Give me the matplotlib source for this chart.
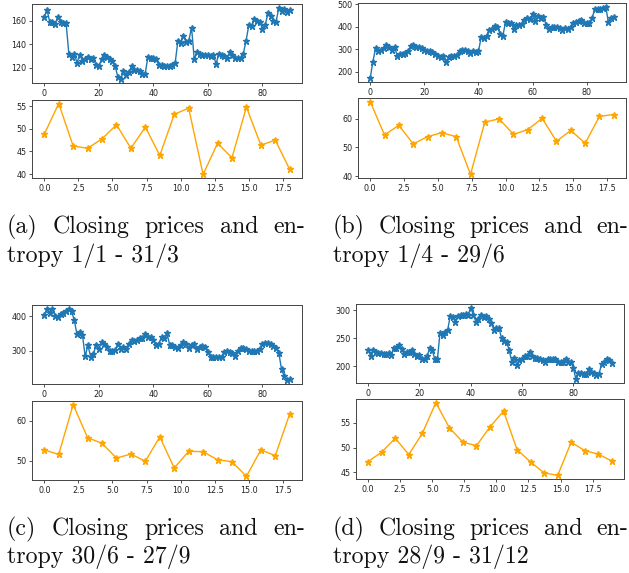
import numpy as np
import matplotlib
matplotlib.use("Agg")
import matplotlib.pyplot as plt
from matplotlib.ticker import MultipleLocator

# Daily closing prices per quarter
price_q1 = [163, 169, 159, 159, 157, 163, 159, 158, 158, 132,
            129, 132, 124, 131, 126, 127, 129, 127, 128, 122,
            121, 127, 131, 129, 127, 126, 121, 112, 110, 117,
            114, 116, 121, 118, 118, 117, 115, 115, 129, 128,
            128, 127, 122, 122, 121, 121, 121, 122, 124, 143,
            141, 147, 142, 143, 154, 127, 133, 132, 131, 131,
            131, 130, 131, 123, 132, 131, 130, 128, 133, 131,
            128, 128, 128, 132, 143, 156, 155, 161, 160, 159,
            153, 156, 166, 164, 160, 159, 171, 168, 170, 167,
            169]
price_q2 = [170, 245, 305, 290, 295, 305, 320, 312, 298, 308,
            272, 280, 278, 285, 290, 315, 318, 312, 308, 305,
            298, 290, 294, 288, 280, 268, 266, 268, 242, 265,
            270, 268, 275, 292, 295, 296, 290, 285, 290, 286,
            290, 355, 352, 358, 385, 392, 405, 398, 368, 360,
            420, 415, 418, 390, 410, 408, 412, 430, 440, 435,
            455, 425, 448, 440, 442, 410, 390, 400, 398, 400,
            395, 385, 395, 390, 398, 415, 420, 425, 430, 415,
            418, 415, 440, 480, 480, 478, 482, 490, 420, 440,
            442]
price_q3 = [402, 420, 410, 422, 400, 398, 405, 410, 415, 420,
            415, 388, 347, 355, 345, 283, 315, 282, 290, 315,
            305, 325, 320, 310, 298, 300, 302, 318, 305, 310,
            305, 320, 330, 328, 330, 335, 335, 348, 338, 340,
            330, 315, 320, 340, 335, 350, 315, 315, 310, 308,
            315, 325, 318, 308, 315, 318, 305, 310, 313, 310,
            295, 280, 280, 280, 280, 280, 295, 300, 295, 293,
            285, 300, 308, 306, 305, 300, 300, 298, 300, 305,
            318, 323, 323, 318, 312, 308, 293, 245, 225, 213,
            218]
price_q4 = [228, 218, 228, 225, 223, 224, 222, 222, 223, 220,
            233, 232, 238, 230, 222, 225, 225, 228, 222, 218,
            220, 212, 213, 218, 232, 228, 212, 212, 260, 255,
            262, 265, 290, 288, 280, 290, 292, 292, 293, 292,
            305, 292, 280, 285, 292, 288, 290, 285, 278, 265,
            268, 268, 250, 245, 243, 228, 208, 215, 202, 210,
            212, 218, 218, 225, 218, 215, 215, 212, 210, 208,
            213, 213, 212, 213, 208, 208, 208, 212, 208, 207,
            197, 176, 188, 187, 186, 186, 195, 190, 188, 184,
            186, 203, 207, 212, 210, 205]

# Entropy per window
entropy_q1 = [48.8, 55.6, 46.2, 45.7, 47.8, 50.9, 45.7, 50.4, 44.1,
              53.2, 54.6, 39.9, 46.8, 43.6, 54.8, 46.4, 47.5, 41.0]
entropy_q2 = [65.9, 54.3, 57.7, 51.2, 53.7, 55.1, 53.7, 40.6, 58.8,
              59.9, 54.5, 56.2, 60.1, 52.1, 55.9, 51.4, 60.8, 61.4]
entropy_q3 = [52.75, 51.6, 64.1, 55.8, 54.4, 50.7, 51.7, 49.9, 56.0,
              48.2, 52.4, 52.3, 50.25, 49.8, 46.1, 52.75, 51.3, 61.8]
entropy_q4 = [47.2, 49.1, 51.9, 48.6, 52.9, 59.1, 54.0, 51.1, 50.4,
              54.2, 57.4, 49.6, 47.1, 44.9, 44.4, 51.1, 49.4, 48.7, 47.3]

captions = [
    ("(a) Closing prices and en-", "tropy 1/1 - 31/3"),
    ("(b) Closing prices and en-", "tropy 1/4 - 29/6"),
    ("(c) Closing prices and en-", "tropy 30/6 - 27/9"),
    ("(d) Closing prices and en-", "tropy 28/9 - 31/12"),
]

W, H = 629, 573
fig = plt.figure(figsize=(W / 100, H / 100), dpi=100)


def px_axes(x0, y0, x1, y1):
    return fig.add_axes([x0 / W, (H - y1) / H, (x1 - x0) / W, (y1 - y0) / H])


def style(ax, xstep, ystep):
    ax.xaxis.set_major_locator(MultipleLocator(xstep))
    ax.yaxis.set_major_locator(MultipleLocator(ystep))
    ax.tick_params(labelsize=5.8, length=2.5, width=0.6, pad=1.5,
                   colors="#333333", labelcolor="#222222")
    for s in ax.spines.values():
        s.set_linewidth(0.7)
        s.set_color("#444444")


panels = [
    # prices, entropy, top box, bottom box, price y-step, entropy y-step
    (price_q1, entropy_q1, (32, 4, 302, 83), (32, 100, 302, 178), 20, 5),
    (price_q2, entropy_q2, (358, 3, 626, 82), (358, 98, 626, 178), 100, 10),
    (price_q3, entropy_q3, (32, 305, 302, 384), (32, 401, 302, 480), 100, 10),
    (price_q4, entropy_q4, (356, 304, 624, 383), (356, 399, 624, 479), 50, 5),
]

for prices, ent, box_top, box_bot, pstep, estep in panels:
    ax1 = px_axes(*box_top)
    ax1.plot(np.arange(len(prices)), prices, color="#1f77b4", marker="*",
             markersize=4.5, linewidth=1.0)
    style(ax1, 20, pstep)

    ax2 = px_axes(*box_bot)
    xe = np.linspace(0, len(ent), len(ent))
    ax2.plot(xe, ent, color="orange", marker="*", markersize=4.6, linewidth=1.0)
    style(ax2, 2.5, estep)

cap_font = dict(family="cmr10", size=17.2, color="#111111", va="baseline")


def justified_line(text, x0, x1, y):
    words = text.split(" ")
    objs = [fig.text(0, (H - y) / H, w, ha="left", **cap_font) for w in words]
    fig.canvas.draw()
    r = fig.canvas.get_renderer()
    widths = [o.get_window_extent(r).width for o in objs]
    gap = (x1 - x0 - sum(widths)) / (len(words) - 1)
    x = x0
    for o, w in zip(objs, widths):
        o.set_x(x / W)
        x += w + gap


cap_pos = [(7, 305, 233, 262), (333, 628, 233, 262),
           (7, 305, 535, 563), (333, 628, 535, 563)]
for (l1, l2), (x0, x1, y1, y2) in zip(captions, cap_pos):
    justified_line(l1, x0, x1, y1)
    fig.text(x0 / W, (H - y2) / H, l2, ha="left", **cap_font)

fig.savefig("out.png", dpi=100)
